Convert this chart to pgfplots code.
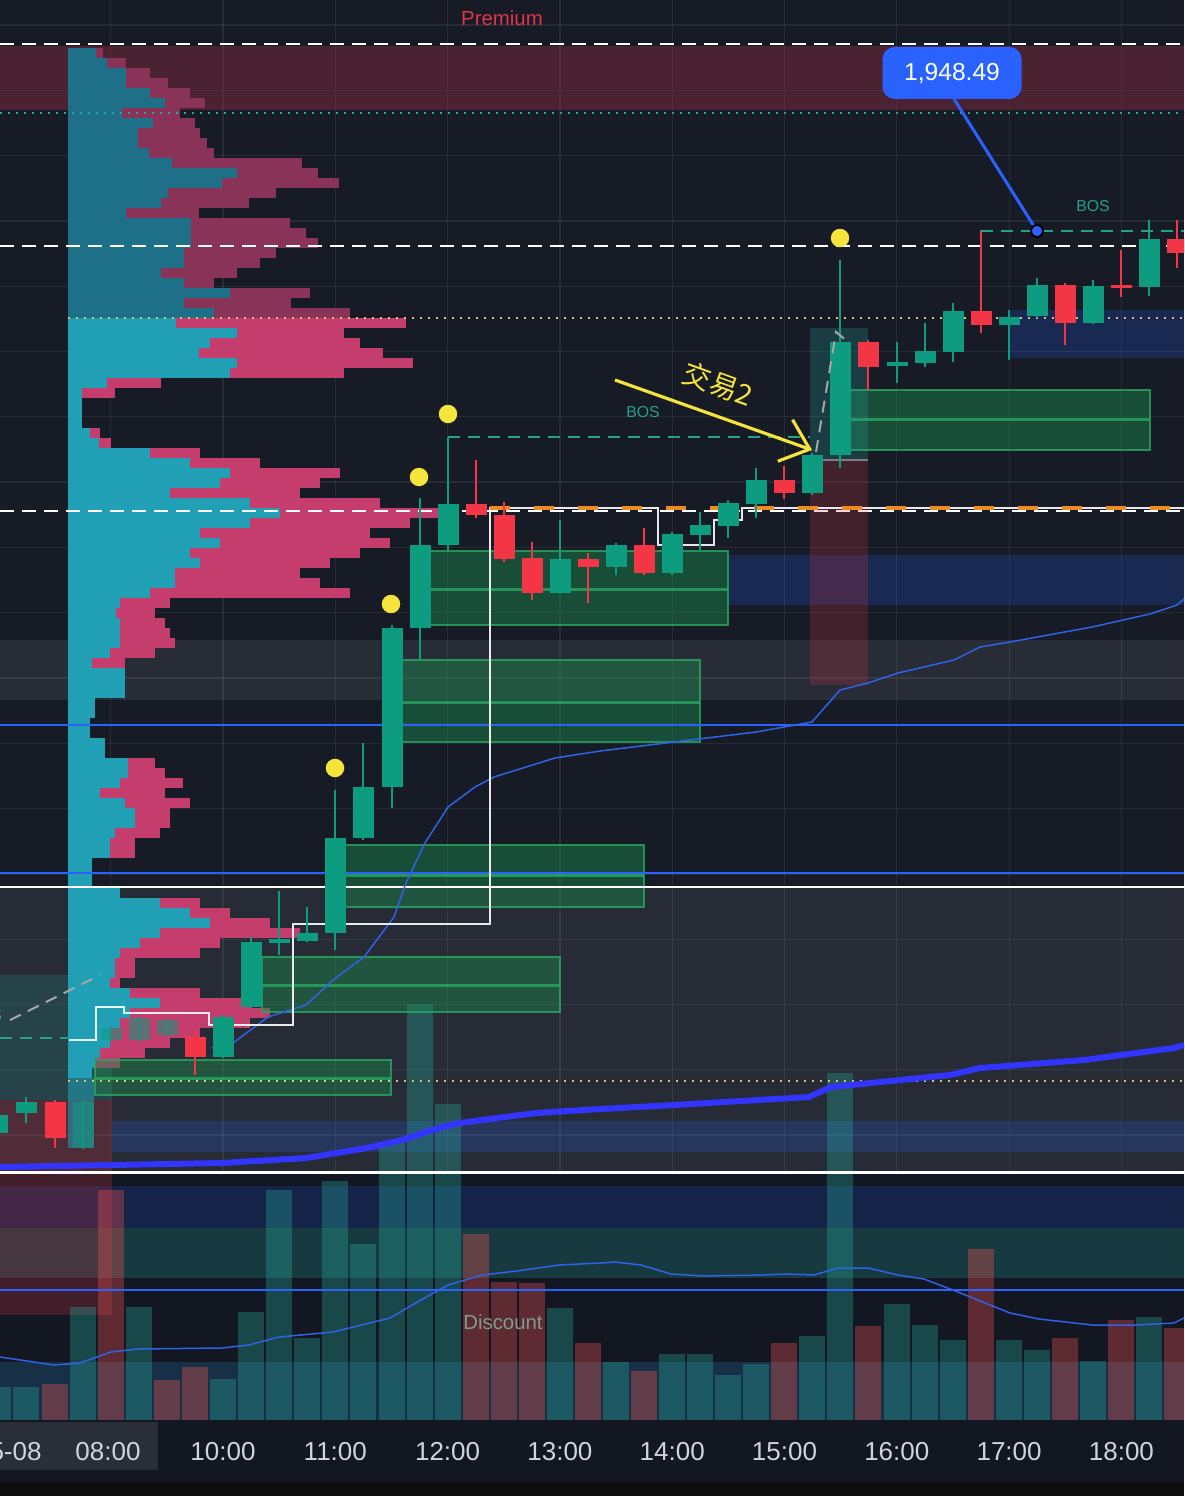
\documentclass[border=0pt]{standalone}
\usepackage{pgfplots}
\pgfplotsset{compat=1.18}
\usepackage{pgfplotstable}
\usepackage{fontspec}
\setmainfont{Liberation Sans}
\newfontfamily\cjk{Noto Sans CJK SC}
\usetikzlibrary{arrows.meta}

\definecolor{bg}{HTML}{161B26}
\definecolor{tvgreen}{HTML}{0E9C80}
\definecolor{tvred}{HTML}{F23645}
\definecolor{tvblue}{HTML}{2962FF}
\definecolor{cyanA}{HTML}{21A0B5}
\definecolor{cyanD}{HTML}{1E7088}
\definecolor{pinkA}{HTML}{C43D6C}
\definecolor{pinkD}{HTML}{8A3358}
\definecolor{obfill}{HTML}{1B8A4E}
\definecolor{obline}{HTML}{27A85F}
\definecolor{vwap}{HTML}{2F62E6}
\definecolor{ma}{HTML}{3434FF}
\definecolor{ylw}{HTML}{F6E43C}
\definecolor{orng}{HTML}{EE8A23}
\definecolor{dotc}{HTML}{D8BF7A}
\definecolor{bosc}{HTML}{25A08A}
\definecolor{axtext}{HTML}{D1D4DC}
\definecolor{premz}{HTML}{8C2B40}
\definecolor{teal}{HTML}{26A69A}
\definecolor{panel}{HTML}{131722}
\definecolor{bandc}{HTML}{288CC8}
\definecolor{leftred}{HTML}{B03040}
\definecolor{volred}{HTML}{EF5350}
\definecolor{premtxt}{HTML}{E0344A}
\definecolor{disc}{HTML}{7D9C8F}
\definecolor{blk}{HTML}{0E0E0E}
\definecolor{timebox}{HTML}{2A2E39}

% candles, x = pixel column, prices in pixel rows (top = 0)
\pgfplotstableread{
x o c h l
-2 1133 1115 1113 1135
26 1113 1102 1097 1123
223 1057 1017 1015 1058
251 1007 942 937 1008
279 943 939 891 955
307 941 933 907 942
335 933 838 790 950
363 838 787 743 840
392 787 628 625 808
420 628 545 498 660
448 545 504 437 552
560 593 559 520 594
616 567 545 543 575
672 573 534 532 575
700 535 525 512 550
728 526 503 500 538
756 504 480 468 518
812 493 455 453 495
840 455 342 260 468
897 366 362 342 383
925 363 351 323 367
953 352 311 303 362
1009 325 317 310 360
1037 316 285 278 318
1093 323 286 280 324
1149 287 239 220 296
}\greens
\pgfplotstableread{
x o c h l
83 1148 1102 1100 1150
111 1040 1028 1025 1042
139 1040 1018 1015 1042
167 1035 1020 1018 1037
}\pales
\pgfplotstableread{
x o c h l
55 1102 1138 1100 1148
195 1037 1057 1030 1075
476 504 515 460 518
504 515 559 502 562
532 558 593 542 600
588 559 567 553 603
644 545 573 528 575
784 480 493 466 499
868 342 367 340 390
981 311 325 230 333
1065 285 323 283 345
1121 285 288 250 297
1177 239 253 220 268
}\reds

% volume (bar top row, base at 1420)
\pgfplotstableread{
x t
-2 1387
26 1387
83 1307
139 1307
223 1379
251 1312
279 1190
307 1338
335 1181
363 1244
392 1142
420 1004
448 1104
560 1308
616 1362
672 1354
700 1354
728 1375
756 1364
812 1336
840 1073
897 1304
925 1325
953 1340
1009 1340
1037 1350
1093 1361
1149 1317
}\volup
\pgfplotstableread{
x t
55 1384
111 1190
167 1380
195 1367
476 1234
504 1282
532 1283
588 1343
644 1371
784 1343
868 1326
981 1249
1065 1338
1121 1320
1177 1328
}\voldn

% volume profile rows: y, end of cyan part, end of pink part
\pgfplotstableread{
y c p
53 96 103
63 107 126
73 126 150
83 126 168
93 150 190
103 165 205
113 122 180
123 153 195
133 138 200
143 138 207
153 149 214
163 172 302
173 237 318
183 222 339
193 168 276
203 161 249
213 126 199
223 191 290
233 191 306
243 191 318
253 184 276
263 184 260
273 161 237
283 184 214
293 230 310
303 184 291
313 214 350
}\proftop
\pgfplotstableread{
y c p
323 176 406
333 237 344
343 210 360
353 199 383
363 237 413
373 230 344
383 107 161
393 82 115
403 82 82
413 82 82
423 82 82
433 90 100
443 99 111
453 150 200
463 190 260
473 230 340
483 220 320
493 170 300
503 250 380
513 280 455
523 250 410
533 200 370
543 220 390
553 190 360
563 200 330
573 175 300
583 175 320
593 150 350
603 120 170
613 116 155
623 120 165
633 120 170
643 120 175
653 110 155
663 92 125
673 125 125
683 125 125
693 125 125
703 95 95
713 95 95
723 90 90
733 90 90
743 105 105
753 105 105
763 128 155
773 128 165
783 120 183
793 100 165
803 125 190
813 135 170
823 135 170
833 115 160
843 110 135
853 110 135
863 92 92
873 92 92
883 92 92
893 120 120
903 160 200
913 190 230
923 210 270
933 160 300
943 140 220
953 120 200
963 115 135
973 115 135
983 110 120
993 130 200
1003 160 250
1013 130 270
1023 120 250
1033 110 200
1043 110 170
1053 100 145
1063 95 120
1073 92 92
}\profmid
\pgfplotstableread{
y c
1083 94
1093 94
1103 94
1113 94
1123 94
1133 94
1143 94
}\profbot

\newcommand{\zone}[5]{\addplot[draw=none, fill=#5] coordinates {(#1,#2) (#3,#2) (#3,#4) (#1,#4)} -- cycle;}
\newcommand{\ob}[5]{%
  \addplot[draw=obline, draw opacity=0.8, line width=0.25mm, fill=obfill, fill opacity=0.45] coordinates {(#1,#2) (#3,#2) (#3,#4) (#1,#4)} -- cycle;
  \addplot[obline, draw opacity=0.8, line width=0.3mm] coordinates {(#1,#5) (#3,#5)};}
\newcommand{\hl}[4]{\addplot[#4] coordinates {(#1,#3) (#2,#3)};}
\newcommand{\tlab}[2]{\node[text=axtext, font=\fontsize{7.4}{9}\selectfont] at (axis cs:#1,1452) {#2};}

\begin{document}
\begin{tikzpicture}
\begin{axis}[
  scale only axis, width=118.4mm, height=149.6mm,
  xmin=0, xmax=1184, ymin=0, ymax=1496, y dir=reverse,
  axis background/.style={fill=bg},
  axis line style={draw=none}, major tick length=0pt,
  xtick={110.7,223,335.3,447.6,559.9,672.2,784.5,896.8,1009.1,1121.4},
  ytick={25,90.3,...,1480},
  xticklabels={}, yticklabels={},
  grid=major, major grid style={draw=white, draw opacity=0.07, line width=0.35pt},
]
% zones
\zone{0}{46}{1184}{110}{premz, fill opacity=0.45}
\zone{0}{640}{1184}{700}{white, fill opacity=0.08}
\zone{0}{887}{1184}{1172}{white, fill opacity=0.07}
\zone{728}{555}{1184}{605}{tvblue, fill opacity=0.2}
\zone{1009}{310}{1184}{358}{tvblue, fill opacity=0.2}
\zone{112}{1121}{1184}{1152}{tvblue, fill opacity=0.2}
\zone{0}{975}{112}{1100}{teal, fill opacity=0.2}
\zone{0}{1172}{1184}{1420}{panel}
\zone{0}{1186}{1184}{1228}{tvblue, fill opacity=0.18}
\zone{0}{1228}{1184}{1278}{teal, fill opacity=0.25}
\zone{0}{1362}{1184}{1420}{bandc, fill opacity=0.22}
\zone{0}{1100}{112}{1315}{leftred, fill opacity=0.3}

% volume
\addplot[draw=teal, draw opacity=0.35, line width=2.6mm, quiver={u=0, v=\thisrow{t}-1420}] table[x=x, y expr=1420] {\volup};
\addplot[draw=volred, draw opacity=0.35, line width=2.6mm, quiver={u=0, v=\thisrow{t}-1420}] table[x=x, y expr=1420] {\voldn};

% volume profile
\addplot[draw=pinkD, line width=1.05mm, quiver={u=\thisrow{p}-68, v=0}] table[x expr=68, y=y] {\proftop};
\addplot[draw=cyanD, line width=1.05mm, quiver={u=\thisrow{c}-68, v=0}] table[x expr=68, y=y] {\proftop};
\addplot[draw=pinkA, line width=1.05mm, quiver={u=\thisrow{p}-68, v=0}] table[x expr=68, y=y] {\profmid};
\addplot[draw=cyanA, line width=1.05mm, quiver={u=\thisrow{c}-68, v=0}] table[x expr=68, y=y] {\profmid};
\addplot[draw=cyanA, draw opacity=0.55, line width=1.05mm, quiver={u=\thisrow{c}-68, v=0}] table[x expr=68, y=y] {\profbot};

% order blocks
\ob{850}{390}{1150}{450}{420}
\ob{430}{551}{728}{625}{589}
\ob{400}{660}{700}{742}{702}
\ob{345}{845}{644}{907}{875}
\ob{262}{957}{560}{1012}{985}
\ob{95}{1060}{391}{1095}{1078}

% horizontal levels
\hl{0}{1184}{44}{white, line width=0.2mm, dash pattern=on 1.4mm off 0.8mm}
\hl{0}{1184}{246}{white, line width=0.2mm, dash pattern=on 1.4mm off 0.8mm}
\hl{0}{1184}{511}{white, line width=0.2mm, dash pattern=on 1.4mm off 0.8mm}
\hl{0}{1184}{113}{teal, line width=0.2mm, dash pattern=on 0.2mm off 0.6mm}
\hl{68}{1184}{318}{dotc, line width=0.25mm, dash pattern=on 0.2mm off 0.6mm}
\hl{68}{1184}{1081}{dotc, line width=0.25mm, dash pattern=on 0.2mm off 0.6mm}
\hl{0}{1184}{725}{tvblue, line width=0.18mm}
\hl{0}{1184}{873}{tvblue, line width=0.18mm}
\hl{0}{1184}{1290}{tvblue, line width=0.18mm}
\hl{0}{1184}{887}{white, line width=0.25mm}
\hl{0}{1184}{1172}{white, line width=0.3mm}

% boxes around the 15:30 break
\zone{810}{328}{868}{460}{teal, fill opacity=0.25}
\zone{810}{460}{868}{685}{tvred, fill opacity=0.2}
\hl{810}{868}{460}{gray, line width=0.25mm}

% moving averages
\addplot[ma, line width=0.6mm, line join=round] coordinates {(0,1167) (112,1165) (222,1163) (306,1158) (367,1148) (402,1140) (432,1130) (459,1123) (536,1113) (600,1109) (674,1105) (809,1097) (831,1087) (861,1084) (950,1075) (980,1068) (1084,1060) (1174,1048) (1184,1045)};
\addplot[vwap, line width=0.15mm, line join=round] coordinates {(212,1048) (233,1043) (268,1017) (306,1005) (333,980) (364,957) (394,917) (406,883) (425,843) (448,807) (475,787) (494,777) (555,758) (600,751) (674,742) (756,732) (812,722) (840,690) (868,683) (898,673) (954,660) (980,647) (1010,642) (1092,627) (1150,614) (1177,605) (1184,599)};
\addplot[vwap, line width=0.15mm, line join=round] coordinates {(0,1357) (54,1365) (80,1363) (111,1352) (138,1349) (222,1348) (249,1345) (279,1337) (333,1332) (390,1318) (421,1300) (448,1285) (482,1275) (517,1271) (559,1265) (600,1263) (615,1262) (641,1265) (671,1274) (704,1276) (764,1275) (786,1274) (814,1275) (838,1268) (868,1268) (898,1275) (924,1279) (958,1292) (1010,1313) (1039,1319) (1092,1325) (1136,1325) (1174,1323) (1184,1318)};

% white step line, then the orange level over it
\addplot[white, line width=0.2mm, draw opacity=0.9] coordinates {(69,1040) (96,1040) (96,1007) (124,1007) (124,1013) (209,1013) (209,1025) (293,1025) (293,924) (490,924) (490,508) (658,508) (658,545) (714,545) (714,520) (742,520) (742,508) (1184,508)};
\hl{490}{1184}{508}{orng, line width=0.45mm, dash pattern=on 2mm off 2.4mm}

% candles
\addplot[draw=tvgreen, line width=0.2mm, quiver={u=0, v=\thisrow{l}-\thisrow{h}}] table[x=x, y=h] {\greens};
\addplot[draw=tvgreen, line width=2.1mm, quiver={u=0, v=\thisrow{c}-\thisrow{o}}] table[x=x, y=o] {\greens};
\addplot[draw=tvgreen, draw opacity=0.55, line width=0.2mm, quiver={u=0, v=\thisrow{l}-\thisrow{h}}] table[x=x, y=h] {\pales};
\addplot[draw=tvgreen, draw opacity=0.55, line width=2.1mm, quiver={u=0, v=\thisrow{c}-\thisrow{o}}] table[x=x, y=o] {\pales};
\addplot[draw=tvred, line width=0.2mm, quiver={u=0, v=\thisrow{l}-\thisrow{h}}] table[x=x, y=h] {\reds};
\addplot[draw=tvred, line width=2.1mm, quiver={u=0, v=\thisrow{c}-\thisrow{o}}] table[x=x, y=o] {\reds};

% structure marks
\addplot[bosc, line width=0.2mm, dash pattern=on 1.2mm off 0.8mm] coordinates {(448,437) (810,437)};
\addplot[bosc, line width=0.2mm, dash pattern=on 1.2mm off 0.8mm] coordinates {(981,231) (1184,231)};
\addplot[bosc, line width=0.2mm, dash pattern=on 1.2mm off 0.8mm] coordinates {(0,1038) (68,1038)};
\addplot[gray!70, line width=0.2mm, dash pattern=on 1.2mm off 0.8mm] coordinates {(10,1020) (100,975)};
\addplot[gray!70, line width=0.2mm, dash pattern=on 1.2mm off 0.8mm] coordinates {(816,452) (836,332) (848,342)};
\node[text=bosc, font=\fontsize{4.5}{5}\selectfont] at (axis cs:643,412) {BOS};
\node[text=bosc, font=\fontsize{4.5}{5}\selectfont] at (axis cs:1093,206) {BOS};
\node[text=gray!80, font=\fontsize{4.5}{5}\selectfont, anchor=east] at (axis cs:14,1015) {BOS};
\addplot[only marks, mark=*, mark size=0.85mm, color=ylw] coordinates {(840,238) (448,414) (419,477) (391,604) (335,768)};

% trade annotation
\addplot[ylw, line width=0.9pt, -{Straight Barb[length=2.6mm, width=4.4mm]}] coordinates {(615,380) (812,450)};
\node[text=ylw, rotate=-20, inner sep=0pt, font=\cjk\fontsize{8}{9}\selectfont] at (axis cs:718,384) {交易2};

% price label
\addplot[tvblue, line width=0.3mm] coordinates {(954,99) (1037,231)};
\addplot[only marks, mark=*, mark size=0.6mm, color=tvblue, mark options={draw=black, line width=0.2mm}] coordinates {(1037,231)};
\node[fill=tvblue, rounded corners=1.2mm, text=white, minimum width=13.9mm, minimum height=5.2mm, inner sep=0pt, font=\fontsize{7}{8}\selectfont] at (axis cs:952,73) {1,948.49};

\node[text=premtxt, font=\fontsize{5.8}{7}\selectfont] at (axis cs:502,18) {Premium};
\node[text=disc, font=\fontsize{5.8}{7}\selectfont] at (axis cs:503,1322) {Discount};

% time axis strip
\zone{0}{1420}{1184}{1482}{panel}
\zone{0}{1482}{1184}{1496}{blk}
\zone{0}{1422}{158}{1470}{timebox}
\node[text=axtext, font=\fontsize{7.4}{9}\selectfont, anchor=east] at (axis cs:54,1452) {5-08};
\tlab{108}{08:00}
\tlab{223}{10:00}
\tlab{335.3}{11:00}
\tlab{447.6}{12:00}
\tlab{559.9}{13:00}
\tlab{672.2}{14:00}
\tlab{784.5}{15:00}
\tlab{896.8}{16:00}
\tlab{1009.1}{17:00}
\tlab{1121.4}{18:00}
\end{axis}
\pgfresetboundingbox
\useasboundingbox (current axis.south west) rectangle (current axis.north east);
\end{tikzpicture}
\end{document}
